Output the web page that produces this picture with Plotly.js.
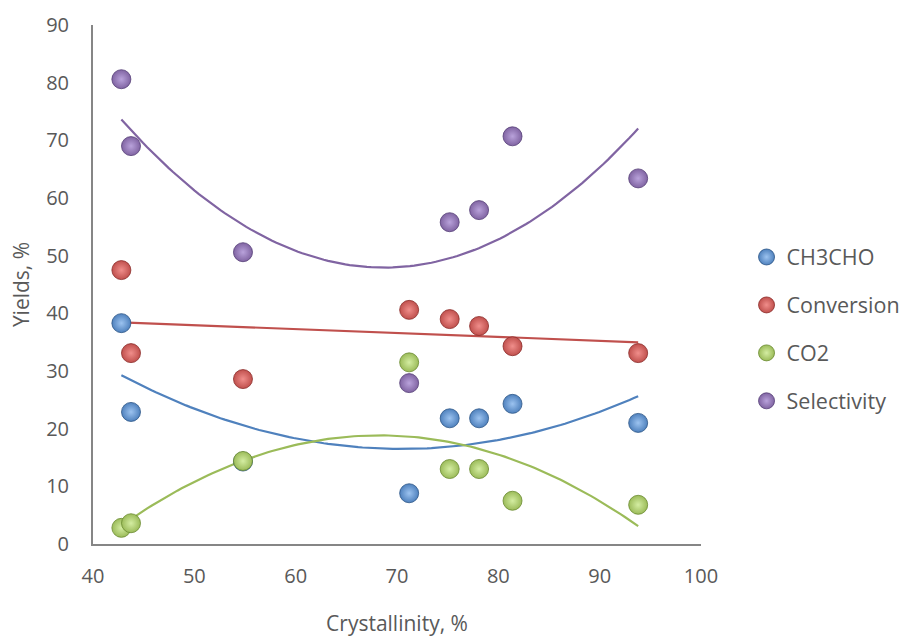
<!DOCTYPE html>
<html>
<head>
<meta charset="utf-8">
<script src="https://cdn.plot.ly/plotly-3.0.1.min.js"></script>
<style>html,body{margin:0;padding:0;background:#fff;}#chart{width:906px;height:637px;}</style>
</head>
<body>
<div id="chart"></div>
<script>
const crystallinity = [42.8, 43.75, 54.8, 71.2, 75.2, 78.1, 81.4, 93.8];
const ch3cho       = [38.3, 22.9, 14.3, 8.8, 21.8, 21.8, 24.3, 21.0];
const conversion   = [47.5, 33.1, 28.6, 40.6, 39.0, 37.8, 34.3, 33.1];
const co2          = [2.8, 3.6, 14.4, 31.5, 13.0, 13.0, 7.5, 6.8];
const selectivity  = [80.6, 69.0, 50.6, 27.9, 55.8, 57.9, 70.7, 63.4];
const seriesNames  = ["CH3CHO", "Conversion", "CO2", "Selectivity"];
const trendOrder   = [2, 1, 2, 2];

const baseColors  = ["#4F81BD", "#C0504D", "#9BBB59", "#8064A2"];
const lightColors = ["#9CC3F0", "#F08E8B", "#D4EDA2", "#B9A2DB"];
const edgeColors  = ["#2C5587", "#8B2C2A", "#6A8A30", "#553F77"];

// least-squares polynomial fit (Excel-style trendline)
function polyfit(xs, ys, deg) {
  const n = deg + 1;
  const A = [];
  for (let i = 0; i < n; i++) {
    A.push(new Array(n + 1).fill(0));
  }
  for (let k = 0; k < xs.length; k++) {
    for (let i = 0; i < n; i++) {
      for (let j = 0; j < n; j++) A[i][j] += Math.pow(xs[k], i + j);
      A[i][n] += ys[k] * Math.pow(xs[k], i);
    }
  }
  for (let i = 0; i < n; i++) {
    let p = i;
    for (let r = i + 1; r < n; r++) if (Math.abs(A[r][i]) > Math.abs(A[p][i])) p = r;
    [A[i], A[p]] = [A[p], A[i]];
    for (let r = 0; r < n; r++) {
      if (r === i) continue;
      const f = A[r][i] / A[i][i];
      for (let c = i; c <= n; c++) A[r][c] -= f * A[i][c];
    }
  }
  return A.map((row, i) => row[n] / row[i]);
}

const allY = [ch3cho, conversion, co2, selectivity];
const xmin = Math.min(...crystallinity), xmax = Math.max(...crystallinity);
const traces = [];

allY.forEach((ys, s) => {
  const c = polyfit(crystallinity, ys, trendOrder[s]);
  const tx = [], ty = [];
  for (let i = 0; i <= 120; i++) {
    const x = xmin + (xmax - xmin) * i / 120;
    tx.push(x);
    ty.push(c.reduce((acc, ck, k) => acc + ck * Math.pow(x, k), 0));
  }
  traces.push({
    x: tx, y: ty, type: "scatter", mode: "lines",
    line: {color: baseColors[s], width: 2.2},
    showlegend: false, hoverinfo: "skip"
  });
});

allY.forEach((ys, s) => {
  traces.push({
    x: crystallinity, y: ys, type: "scatter", mode: "markers",
    name: seriesNames[s], legendgroup: "g" + s,
    marker: {
      size: 19, color: baseColors[s],
      gradient: {type: "radial", color: lightColors[s]},
      line: {color: edgeColors[s], width: 0.8}
    }
  });
});

const fontFam = "'Open Sans', Carlito, Lato, sans-serif";
const layout = {
  width: 906, height: 637,
  margin: {l: 93, r: 205, t: 25, b: 93},
  paper_bgcolor: "#fff", plot_bgcolor: "#fff",
  font: {family: fontFam, color: "#595959", size: 20},
  xaxis: {
    range: [40, 100], dtick: 10, tick0: 40,
    showgrid: false, zeroline: false,
    showline: true, linecolor: "#868686", linewidth: 2,
    ticks: "", ticklabelstandoff: 13,
    tickfont: {size: 20, color: "#595959", family: fontFam},
    title: {text: "Crystallinity, %", font: {size: 21, color: "#595959", family: fontFam}, standoff: 29},
    automargin: false
  },
  yaxis: {
    range: [0, 90], dtick: 10, tick0: 0,
    showgrid: false, zeroline: false,
    showline: true, linecolor: "#868686", linewidth: 2,
    ticks: "", ticklabelstandoff: 18,
    tickfont: {size: 20, color: "#595959", family: fontFam},
    title: {text: "Yields, %", font: {size: 21, color: "#595959", family: fontFam}, standoff: 11},
    automargin: false
  },
  legend: {
    xref: "container", yref: "container",
    x: 0.824, y: 1 - 329 / 637, xanchor: "left", yanchor: "middle",
    font: {size: 21.5, color: "#595959", family: fontFam},
    traceorder: "grouped", tracegroupgap: 17,
    itemwidth: 30, bgcolor: "rgba(0,0,0,0)"
  },
  showlegend: true
};

Plotly.newPlot("chart", traces, layout, {displayModeBar: false, staticPlot: true});
</script>
</body>
</html>
